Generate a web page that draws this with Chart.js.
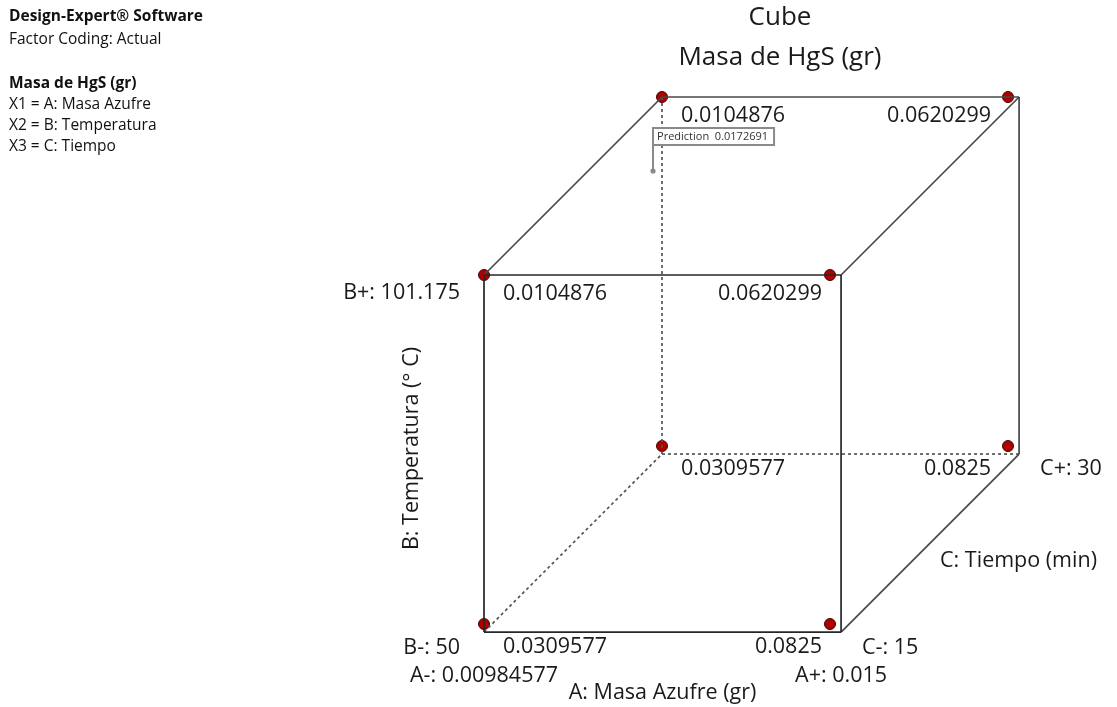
<!DOCTYPE html>
<html lang="es">
<head>
<meta charset="UTF-8">
<title>Cube - Masa de HgS (gr)</title>
<script src="https://cdn.jsdelivr.net/npm/chart.js"></script>
<style>
  html, body { margin: 0; padding: 0; background: #fff; }
  .chart-container { position: relative; width: 1117px; height: 707px; }
</style>
</head>
<body>
<div class="chart-container">
  <canvas id="cubeChart"></canvas>
</div>
<script>
// Factor levels (actual units)
const factorA = { name: 'A: Masa Azufre (gr)', short: 'A', low: 0.00984577, high: 0.015 };
const factorB = { name: 'B: Temperatura (° C)', short: 'B', low: 50, high: 101.175 };
const factorC = { name: 'C: Tiempo (min)', short: 'C', low: 15, high: 30 };

// Runs in standard order (A fastest, then B, then C)
const runA = [-1, 1, -1, 1, -1, 1, -1, 1];
const runB = [-1, -1, 1, 1, -1, -1, 1, 1];
const runC = [-1, -1, -1, -1, 1, 1, 1, 1];
const response = [0.0309577, 0.0825, 0.0104876, 0.0620299, 0.0309577, 0.0825, 0.0104876, 0.0620299];

const responseName = 'Masa de HgS (gr)';
const predictionValue = 0.0172691;

const headerLines = [
  { text: 'Design-Expert® Software', bold: true },
  { text: 'Factor Coding: Actual', bold: false },
  { text: '', bold: false },
  { text: 'Masa de HgS (gr)', bold: true },
  { text: 'X1 = A: Masa Azufre', bold: false },
  { text: 'X2 = B: Temperatura', bold: false },
  { text: 'X3 = C: Tiempo', bold: false }
];

// oblique projection of the cube: depth (C) moves up and to the right
const DEPTH_X = 1.029;
const DEPTH_Y = 1.02;
// the frame is drawn a little wider than the design points on the A+ and B- sides
const FRAME_A = [-1, 1.064];
const FRAME_B = [-1.046, 1];

function project(a, b, c) {
  return { x: a + DEPTH_X * (c + 1) / 2, y: b + DEPTH_Y * (c + 1) / 2 };
}
function frameCorner(a, b, c) {
  return project(a < 0 ? FRAME_A[0] : FRAME_A[1], b < 0 ? FRAME_B[0] : FRAME_B[1], c);
}

// cube edges as corner pairs [a,b,c]
const solidEdges = [
  [[-1, -1, -1], [1, -1, -1]], [[1, -1, -1], [1, 1, -1]], [[1, 1, -1], [-1, 1, -1]], [[-1, 1, -1], [-1, -1, -1]],
  [[-1, 1, 1], [1, 1, 1]], [[1, 1, 1], [1, -1, 1]],
  [[-1, 1, -1], [-1, 1, 1]], [[1, 1, -1], [1, 1, 1]], [[1, -1, -1], [1, -1, 1]]
];
const hiddenEdges = [
  [[-1, -1, 1], [-1, 1, 1]], [[-1, -1, 1], [1, -1, 1]], [[-1, -1, -1], [-1, -1, 1]]
];

const datasets = [];
solidEdges.forEach(e => {
  const front = e[0][2] < 0 && e[1][2] < 0;
  datasets.push({
    data: e.map(p => frameCorner(p[0], p[1], p[2])),
    showLine: true, borderColor: front ? '#262626' : '#484848', borderWidth: 1.7,
    pointRadius: 0, fill: false
  });
});
hiddenEdges.forEach(e => {
  datasets.push({
    data: e.map(p => frameCorner(p[0], p[1], p[2])),
    showLine: true, borderColor: '#555', borderWidth: 1.7, borderDash: [3, 3],
    pointRadius: 0, fill: false
  });
});
datasets.push({
  label: responseName,
  data: runA.map((a, i) => project(a, runB[i], runC[i])),
  showLine: false,
  pointRadius: 5.5,
  backgroundColor: '#ad0000',
  borderColor: '#4a0000',
  borderWidth: 1
});

function fmtLevel(v) { return String(v); }

const FONT = '"Open Sans", "Noto Sans", sans-serif';
const LABEL_FONT = '21.5px ' + FONT;

const cubeLabels = {
  id: 'cubeLabels',
  afterDraw(chart) {
    const { ctx, scales } = chart;
    const X = v => scales.x.getPixelForValue(v);
    const Y = v => scales.y.getPixelForValue(v);
    const P = (a, b, c) => { const p = project(a, b, c); return { x: X(p.x), y: Y(p.y) }; };
    const F = (a, b, c) => { const p = frameCorner(a, b, c); return { x: X(p.x), y: Y(p.y) }; };

    ctx.save();
    ctx.textBaseline = 'middle';

    // header block
    ctx.fillStyle = '#111';
    ctx.textAlign = 'left';
    headerLines.forEach((l, i) => {
      if (!l.text) return;
      ctx.font = (l.bold ? 'bold ' : '') + '15.5px ' + FONT;
      const y = i < 2 ? 17 + i * 23 : 84 + (i - 3) * 21;
      ctx.fillText(l.text, 9, y);
    });

    // title
    ctx.fillStyle = '#1a1a1a';
    ctx.textAlign = 'center';
    ctx.font = '26px ' + FONT;
    ctx.fillText('Cube', 780, 18);
    ctx.fillText(responseName, 780, 58);

    // response value at every corner
    ctx.font = LABEL_FONT;
    response.forEach((v, i) => {
      const a = runA[i], b = runB[i], c = runC[i];
      const p = P(a, b, c);
      let x;
      if (a < 0) { ctx.textAlign = 'left'; x = p.x + 19; }
      else { ctx.textAlign = 'right'; x = p.x - (c < 0 ? 8 : 17); }
      const y = b > 0 ? p.y + 19 : p.y + 23;
      ctx.fillText(String(v), x, y);
    });

    // factor level labels
    const fbl = F(-1, -1, -1), fbr = F(1, -1, -1), ftl = F(-1, 1, -1);
    const bbr = F(1, -1, 1);
    ctx.textAlign = 'right';
    ctx.fillText(factorB.short + '+: ' + fmtLevel(factorB.high), fbl.x - 24, ftl.y + 18);
    ctx.fillText(factorB.short + '-: ' + fmtLevel(factorB.low), fbl.x - 24, fbl.y + 16);
    ctx.textAlign = 'center';
    ctx.fillText(factorA.short + '-: ' + fmtLevel(factorA.low), fbl.x, fbl.y + 44);
    ctx.fillText(factorA.short + '+: ' + fmtLevel(factorA.high), fbr.x, fbr.y + 44);
    ctx.fillText(factorA.name, (fbl.x + fbr.x) / 2, fbl.y + 61);
    ctx.textAlign = 'left';
    ctx.fillText(factorC.short + '-: ' + fmtLevel(factorC.low), fbr.x + 21, fbr.y + 16);
    ctx.fillText(factorC.short + '+: ' + fmtLevel(factorC.high), bbr.x + 21, bbr.y + 15);
    ctx.fillText(factorC.name, (fbr.x + bbr.x) / 2 + 10, (fbr.y + bbr.y) / 2 + 18);

    // B axis title, rotated
    ctx.save();
    ctx.translate(fbl.x - 72, (fbl.y + ftl.y) / 2 - 5);
    ctx.rotate(-Math.PI / 2);
    ctx.textAlign = 'center';
    ctx.fillText(factorB.name, 0, 0);
    ctx.restore();

    // prediction flag hanging off the back top-left corner
    const btl = P(-1, 1, 1);
    const bx = btl.x - 9, by = btl.y + 31;
    ctx.font = '11px ' + FONT;
    const txt = 'Prediction  ' + predictionValue;
    const w = ctx.measureText(txt).width + 10;
    ctx.fillStyle = '#fff';
    ctx.fillRect(bx, by, w, 17);
    ctx.strokeStyle = '#8a8a8a';
    ctx.lineWidth = 2;
    ctx.strokeRect(bx, by, w, 17);
    ctx.beginPath();
    ctx.moveTo(bx, by + 17);
    ctx.lineTo(bx, by + 43);
    ctx.stroke();
    ctx.fillStyle = '#8a8a8a';
    ctx.beginPath();
    ctx.arc(bx, by + 43, 2.6, 0, Math.PI * 2);
    ctx.fill();
    ctx.fillStyle = '#333';
    ctx.textAlign = 'left';
    ctx.fillText(txt, bx + 4, by + 9);

    ctx.restore();
  }
};

// scale ranges: 173 px per coded unit horizontally, 174.5 px vertically
const X_UNIT = 173, Y_UNIT = 174.5;
const xMin = -1 - 484 / X_UNIT;
const yMax = 1 + 275 / Y_UNIT;

const ctx = document.getElementById('cubeChart').getContext('2d');
const cubeChart = new Chart(ctx, {
  type: 'scatter',
  data: { datasets: datasets },
  options: {
    responsive: true,
    maintainAspectRatio: false,
    animation: false,
    layout: { padding: 0, autoPadding: false },
    clip: false,
    scales: {
      x: { type: 'linear', display: false, min: xMin, max: xMin + 1117 / X_UNIT },
      y: { type: 'linear', display: false, max: yMax, min: yMax - 707 / Y_UNIT }
    },
    plugins: {
      legend: { display: false },
      tooltip: { enabled: false },
      title: { display: false }
    }
  },
  plugins: [cubeLabels]
});
</script>
</body>
</html>
